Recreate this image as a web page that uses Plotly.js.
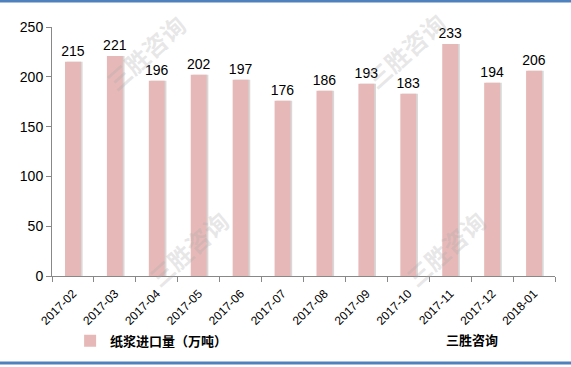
<!DOCTYPE html>
<html><head><meta charset="utf-8">
<script src="https://cdn.plot.ly/plotly-3.0.1.min.js"></script>
<style>html,body{margin:0;padding:0;background:#fff}#chart{width:571px;height:367px}</style>
</head><body><div id="chart"></div>
<script>
const categories = ["2017-02","2017-03","2017-04","2017-05","2017-06","2017-07","2017-08","2017-09","2017-10","2017-11","2017-12","2018-01"];
const values = [215,221,196,202,197,176,186,193,183,233,194,206];
const seriesName = "纸浆进口量（万吨）";
const yTicks = [0,50,100,150,200,250];
const watermark = "三胜咨询";
const font = "Liberation Sans, Noto Sans CJK SC, sans-serif";

const shadow = {
  type:'bar', x:categories, y:values, width:0.38, offset:-0.15,
  marker:{color:'#d8d8d8'}, showlegend:false, hoverinfo:'skip'
};
const main = {
  type:'bar', x:categories, y:values, name:'<b>' + seriesName + '</b>', width:0.38, offset:-0.19,
  marker:{color:'#e6b9b8'},
  text:values.map(String), textposition:'outside', cliponaxis:false, constraintext:'none',
  textfont:{size:14, color:'#000', family:font}
};
function wm(px, py){
  return {xref:'paper', yref:'paper', x:(px-52)/503, y:(276-py)/249, text:'<b>'+watermark+'</b>', showarrow:false,
    textangle:-42, font:{size:24, color:'rgba(170,170,170,0.28)', family:'Noto Sans CJK SC'}, xanchor:'center', yanchor:'middle'};
}
const layout = {
  width:571, height:367,
  margin:{l:52, r:16, t:27, b:91, autoexpand:false},
  barmode:'overlay',
  paper_bgcolor:'#fff', plot_bgcolor:'#fff',
  font:{family:font, color:'#000'},
  xaxis:{type:'category', tickangle:-45, tickfont:{size:12}, showline:true, linecolor:'#888', linewidth:1,
         ticks:'outside', tickson:'boundaries', ticklen:5, tickcolor:'#888', showgrid:false, automargin:false, ticklabelstandoff:5},
  yaxis:{range:[0,250], tickvals:yTicks, tickfont:{size:14}, showline:true, linecolor:'#888', linewidth:1,
         ticks:'outside', ticklen:5, tickcolor:'#888', showgrid:false, zeroline:false, automargin:false},
  showlegend:true,
  legend:{orientation:'h', x:0.036, y:-0.26, xanchor:'left', yanchor:'middle', font:{size:13, color:'#000'}, traceorder:'normal'},
  annotations:[
    wm(145,52), wm(188,248), wm(405,50), wm(445,248),
    {xref:'paper', yref:'paper', x:0.835, y:-0.26, text:'<b>三胜咨询</b>', showarrow:false, font:{size:13, color:'#000'}, xanchor:'center', yanchor:'middle'}
  ],
  shapes:[
    {type:'line', xref:'paper', yref:'paper', x0:-0.2, x1:1.2, y0:1.104, y1:1.104, line:{color:'#4f81bd', width:3}},
    {type:'line', xref:'paper', yref:'paper', x0:-0.2, x1:1.2, y0:-0.349, y1:-0.349, line:{color:'#4f81bd', width:3}}
  ]
};
Plotly.newPlot('chart', [shadow, main], layout, {displayModeBar:false, staticPlot:true});
</script></body></html>
